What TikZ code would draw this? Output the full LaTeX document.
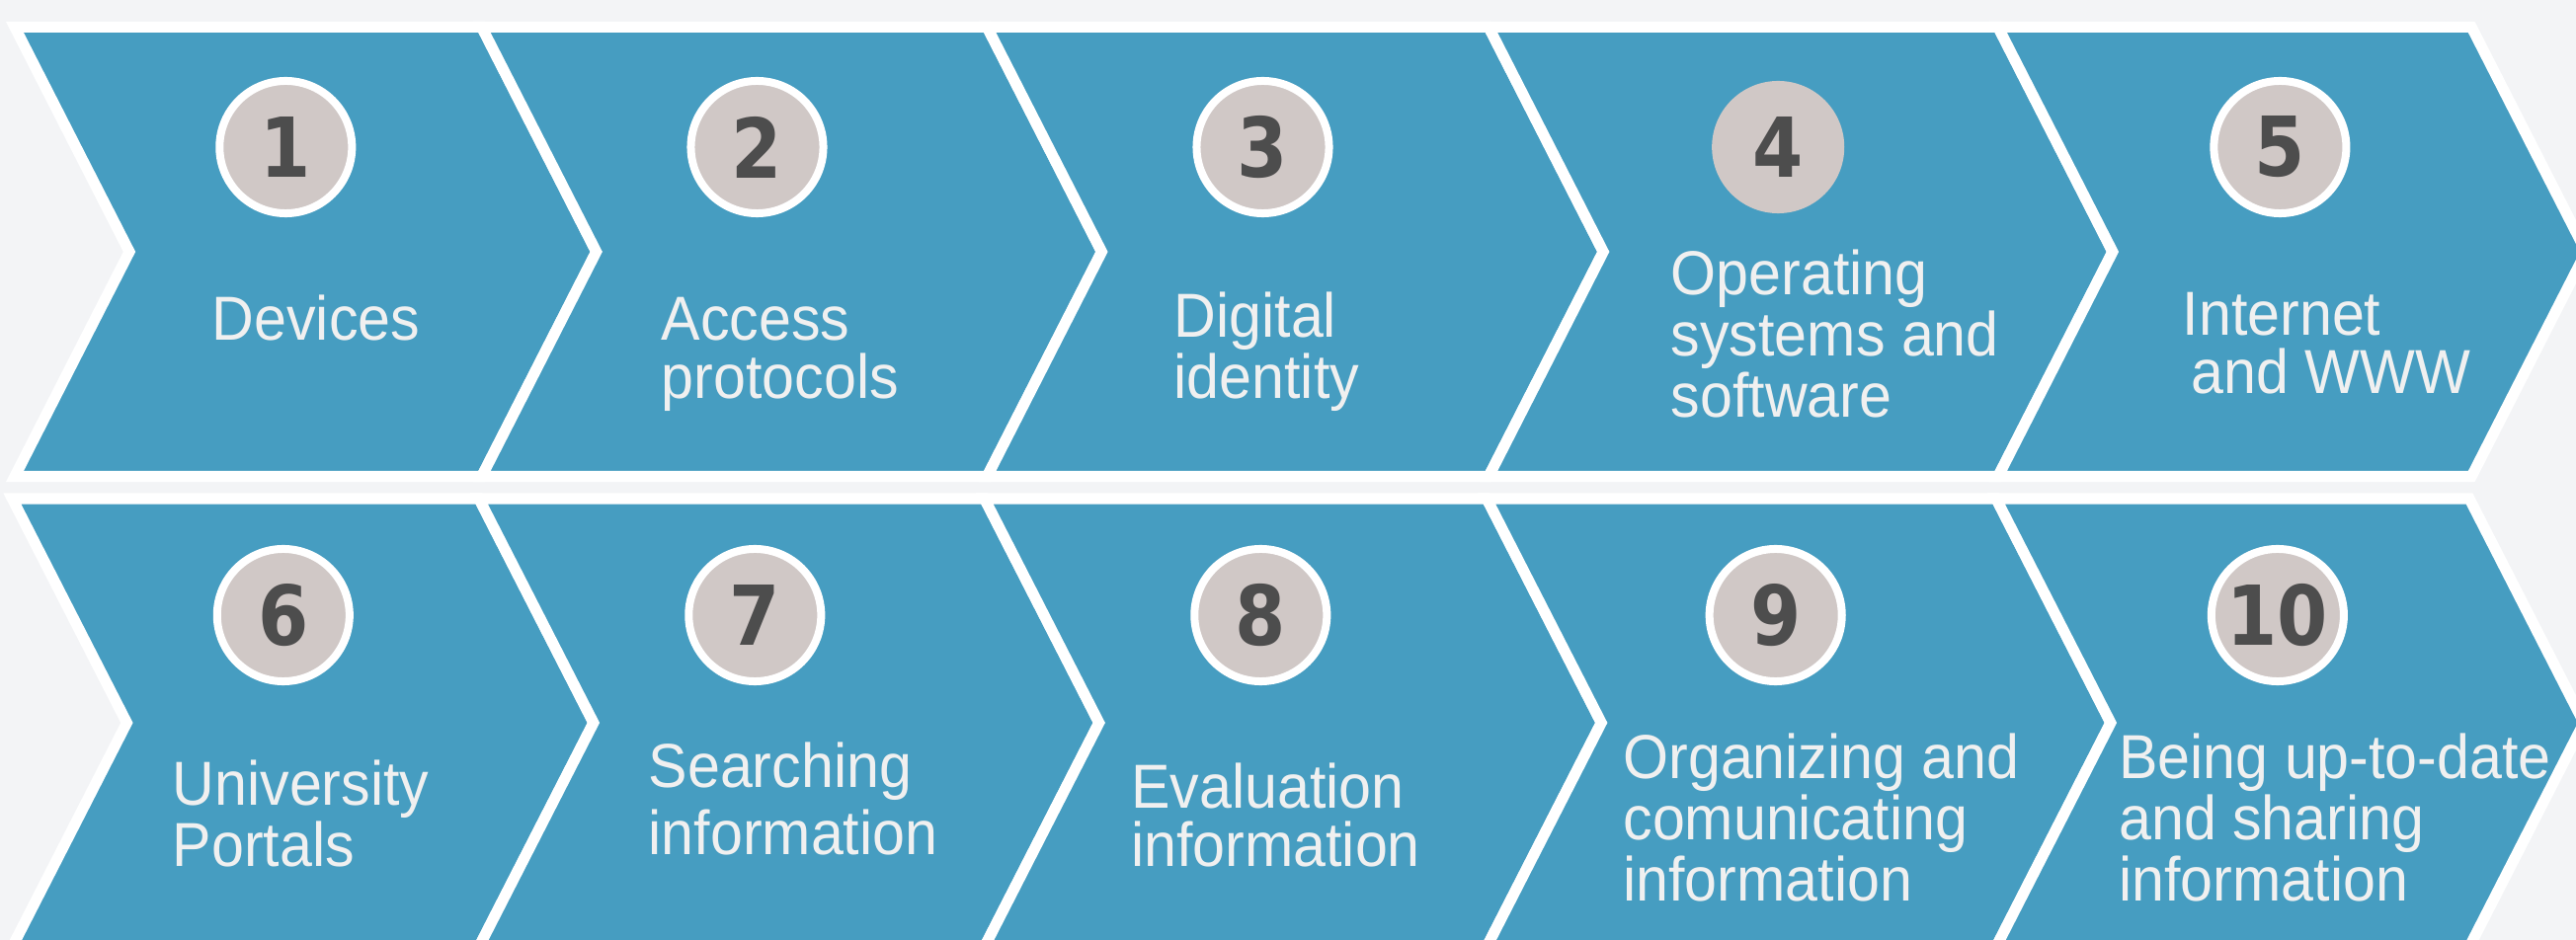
\documentclass[tikz,border=0pt]{standalone}
\usepackage{fontspec}
\usepackage{xcolor}
\usepackage{tikz}
\newfontfamily\labelfont{Liberation Sans}[FakeStretch=0.94]
\newfontfamily\numfont{DejaVu Sans}[FakeStretch=0.88]
\definecolor{bgpage}{HTML}{F3F4F6}
\definecolor{chevblue}{HTML}{469DC1}
\definecolor{numgray}{HTML}{D0C8C6}
\definecolor{numink}{HTML}{4D4D4D}
\definecolor{labelink}{HTML}{F0F0F0}
\tikzset{
  chevron/.style={fill=chevblue, draw=white, line width=1.1mm, line join=miter},
  numcircle/.style={circle, fill=numgray, draw=white, line width=0.8mm, minimum size=1.34cm, inner sep=0pt, text=numink, font=\numfont\bfseries\fontsize{23.8pt}{24pt}\selectfont},
  steplabel/.style={anchor=base west, align=left, inner sep=0pt, text=labelink, font=\labelfont\fontsize{17.9pt}{16.65pt}\selectfont}
}

\begin{document}
\begin{tikzpicture}[x=0.01cm, y=-0.01cm]

\fill[bgpage] (0,0) rectangle (2608,952);
\useasboundingbox (0,0) rectangle (2608,952);
\clip (0,0) rectangle (2608,952);

% first row of chevrons
\draw[chevron] (15,27.5) -- (487.7,27.5) -- (603.7,255) -- (487.7,482.5) -- (15,482.5) -- (131,255) -- cycle;
\draw[chevron] (487.7,27.5) -- (999.4,27.5) -- (1115.4,255) -- (999.4,482.5) -- (487.7,482.5) -- (603.7,255) -- cycle;
\draw[chevron] (999.4,27.5) -- (1507.2,27.5) -- (1623.2,255) -- (1507.2,482.5) -- (999.4,482.5) -- (1115.4,255) -- cycle;
\draw[chevron] (1507.2,27.5) -- (2022.9,27.5) -- (2138.9,255) -- (2022.9,482.5) -- (1507.2,482.5) -- (1623.2,255) -- cycle;
\draw[chevron] (2022.9,27.5) -- (2502.2,27.5) -- (2618.2,255) -- (2502.2,482.5) -- (2022.9,482.5) -- (2138.9,255) -- cycle;

% second row of chevrons
\draw[chevron] (12.4,505) -- (484.9,505) -- (600.9,732) -- (484.9,959) -- (12.4,959) -- (128.4,732) -- cycle;
\draw[chevron] (484.9,505) -- (996.7,505) -- (1112.7,732) -- (996.7,959) -- (484.9,959) -- (600.9,732) -- cycle;
\draw[chevron] (996.7,505) -- (1505.2,505) -- (1621.2,732) -- (1505.2,959) -- (996.7,959) -- (1112.7,732) -- cycle;
\draw[chevron] (1505.2,505) -- (2020.9,505) -- (2136.9,732) -- (2020.9,959) -- (1505.2,959) -- (1621.2,732) -- cycle;
\draw[chevron] (2020.9,505) -- (2500,505) -- (2616,732) -- (2500,959) -- (2020.9,959) -- (2136.9,732) -- cycle;

% numbers
\node[numcircle] (c1) at (289.3,149) {1};
\node[numcircle] (c2) at (766.5,149) {2};
\node[numcircle] (c3) at (1278.5,149) {3};
\node[numcircle, draw=none] (c4) at (1800.2,149) {4};
\node[numcircle] (c5) at (2308.4,149) {5};
\node[numcircle] (c6) at (286.8,623) {6};
\node[numcircle] (c7) at (764.3,623) {7};
\node[numcircle] (c8) at (1276.3,623) {8};
\node[numcircle] (c9) at (1797.7,623) {9};
\node[numcircle] (c10) at (2305.9,623) {10};

% labels (placed at the baseline of their last line)
\node[steplabel] (t1) at (214,345) {Devices};
\node[steplabel] (t2) at (669,403.3) {Access\\protocols};
\node[steplabel] (t3) at (1188,404) {Digital\\identity};
\node[steplabel] (t4) at (1691,422.7) {Operating\\systems and\\software};
\node[steplabel] (t5) at (2209,398.3) {Internet\\\hspace*{0.09cm}and WWW};
\node[steplabel] (t6) at (174,877.7) {University\\Portals};
\node[steplabel] (t7) at (656,865.7) {Searching\\[0.065cm]information};
\node[steplabel] (t8) at (1144.5,877.3) {Evaluation\\information};
\node[steplabel] (t9) at (1642.7,912.7) {Organizing and\\comunicating\\information};
\node[steplabel] (t10) at (2144.6,912.7) {Being up-to-date\\and sharing\\information};

\end{tikzpicture}
\end{document}
